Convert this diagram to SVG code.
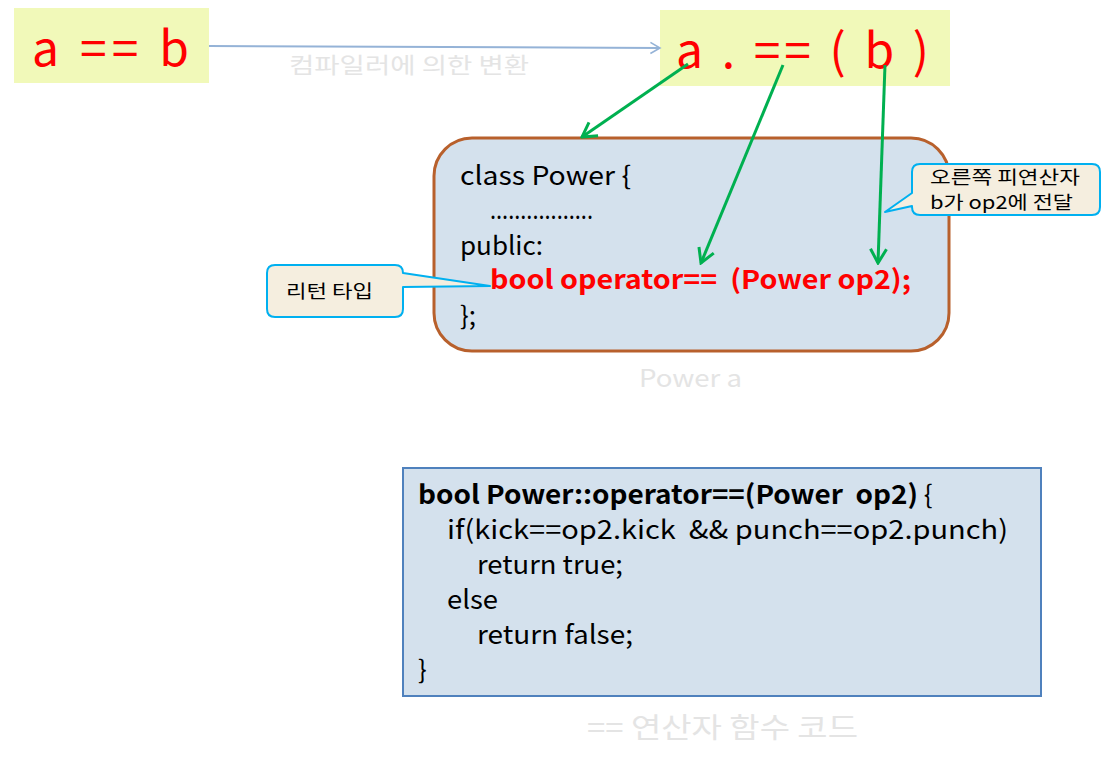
<svg xmlns="http://www.w3.org/2000/svg" width="1101" height="765" viewBox="0 0 1101 765">
<style>
text{font-family:"Noto Sans CJK KR","Open Sans","Liberation Sans",sans-serif;white-space:pre}
.big{font-size:48px;fill:#ff0000}
.ybox{fill:#f1f9b9}
.ghost{fill:#e4e4e4}
.code{font-size:26px;fill:#000}
.call{fill:#f5eedf;stroke:#00b0f0;stroke-width:2;stroke-linejoin:round}
.ct{font-size:18px;fill:#000}
.g{stroke:#00b050;stroke-width:3;fill:none}
</style>
<defs>
<marker id="gArr" viewBox="0 0 20 20" refX="18" refY="10" markerWidth="20" markerHeight="20" markerUnits="userSpaceOnUse" orient="auto">
<path d="M4,2 L18,10 L4,18" fill="none" stroke="#00b050" stroke-width="3"/>
</marker>
<marker id="bArr" viewBox="0 0 20 20" refX="18" refY="10" markerWidth="16" markerHeight="16" markerUnits="userSpaceOnUse" orient="auto">
<path d="M6,3 L18,10 L6,17" fill="none" stroke="#95b3d7" stroke-width="2"/>
</marker>
</defs>
<g id="src">
<rect class="ybox" x="14" y="8" width="195" height="75"/>
<text class="big" x="32" y="66" textLength="157" lengthAdjust="spacing">a == b</text>
</g>
<g id="dst">
<rect class="ybox" x="660" y="10" width="290" height="76"/>
<text class="big" x="676" y="68" textLength="253" lengthAdjust="spacing">a . == ( b )</text>
</g>
<g id="classbox">
<rect x="434" y="138" width="515" height="213" rx="38" fill="#d4e1ed" stroke="#b8602c" stroke-width="3"/>
<text class="code" x="460" y="185" textLength="171" lengthAdjust="spacingAndGlyphs">class Power {</text>
<text class="code" x="490" y="219" font-size="20" textLength="103" lengthAdjust="spacingAndGlyphs">.................</text>
<text class="code" x="460" y="255">public:</text>
<text class="code" x="490" y="289" font-weight="bold" font-size="25" textLength="421" lengthAdjust="spacingAndGlyphs" style="fill:#ff0000">bool operator==  (Power op2);</text>
<text class="code" x="460" y="325">};</text>
</g>
<text id="powera" class="ghost" x="639" y="387" font-size="24" textLength="103" lengthAdjust="spacingAndGlyphs">Power a</text>
<g id="callout1">
<path class="call" d="M275,265 H395 Q403,265 403,273 L490,286 L403,287 V309 Q403,317 395,317 H275 Q267,317 267,309 V273 Q267,265 275,265 Z"/>
<text class="ct" x="286" y="298" font-size="19" textLength="87" lengthAdjust="spacingAndGlyphs">리턴 타입</text>
</g>
<g id="callout2">
<path class="call" d="M920,164 H1092 Q1100,164 1100,172 V207 Q1100,215 1092,215 H920 Q912,215 912,207 V206 L885,212 L912,193 V172 Q912,164 920,164 Z"/>
<text class="ct" x="930" y="184" textLength="150" lengthAdjust="spacingAndGlyphs">오른쪽 피연산자</text>
<text class="ct" x="930" y="209" textLength="143" lengthAdjust="spacingAndGlyphs">b가 op2에 전달</text>
</g>
<g id="codebox">
<rect x="403" y="468" width="638" height="228" fill="#d4e1ed" stroke="#4f81bd" stroke-width="2"/>
<text class="code" x="418" y="504"><tspan font-weight="bold" textLength="500" lengthAdjust="spacingAndGlyphs">bool Power::operator==(Power  op2)</tspan><tspan> {</tspan></text>
<text class="code" x="447" y="539" textLength="561" lengthAdjust="spacingAndGlyphs">if(kick==op2.kick  &amp;&amp; punch==op2.punch)</text>
<text class="code" x="477" y="574" textLength="146" lengthAdjust="spacingAndGlyphs">return true;</text>
<text class="code" x="447" y="609" textLength="51" lengthAdjust="spacingAndGlyphs">else</text>
<text class="code" x="477" y="644" textLength="156" lengthAdjust="spacingAndGlyphs">return false;</text>
<text class="code" x="418" y="679">}</text>
</g>
<text id="codelabel" class="ghost" x="587" y="738" font-size="28" textLength="271" lengthAdjust="spacingAndGlyphs">== 연산자 함수 코드</text>
<g id="connectors">
<line x1="209" y1="46" x2="660" y2="48" stroke="#95b3d7" stroke-width="2" marker-end="url(#bArr)"/>
<text class="ghost" x="289" y="73" font-size="22" textLength="240" lengthAdjust="spacingAndGlyphs">컴파일러에 의한 변환</text>
<line class="g" x1="688" y1="64" x2="582" y2="137" marker-end="url(#gArr)"/>
<line class="g" x1="783" y1="65" x2="701" y2="263" marker-end="url(#gArr)"/>
<line class="g" x1="885" y1="65" x2="878" y2="263" marker-end="url(#gArr)"/>
</g>
</svg>
